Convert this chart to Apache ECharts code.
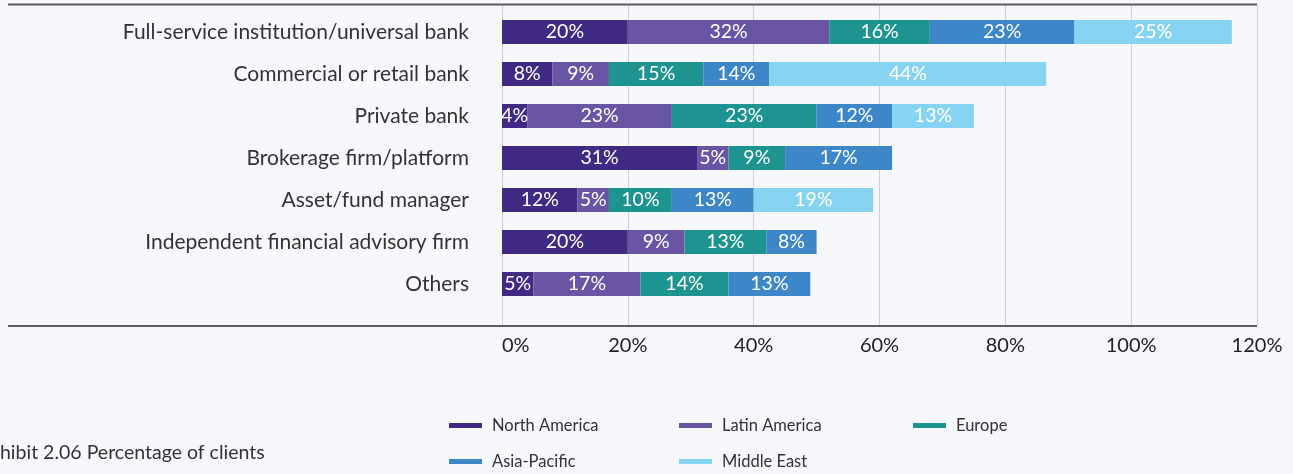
<!DOCTYPE html>
<html><head><meta charset="utf-8">
<script src="https://cdn.jsdelivr.net/npm/echarts@6/dist/echarts.min.js"></script>
<style>html,body{margin:0;padding:0;background:#f7f8fc}#c{width:1293px;height:474px}</style>
</head><body><div id="c"></div><script>
const categories = [
  'Full-service institution/universal bank',
  'Commercial or retail bank',
  'Private bank',
  'Brokerage firm/platform',
  'Asset/fund manager',
  'Independent financial advisory firm',
  'Others'
];
const seriesNames = ['North America', 'Latin America', 'Europe', 'Asia-Pacific', 'Middle East'];
const northAmerica = [20, 8, 4, 31, 12, 20, 5];
const latinAmerica = [32, 9, 23, 5, 5, 9, 17];
const europe = [16, 15, 23, 9, 10, 13, 14];
const asiaPacific = [23, 10.5, 12, 17, 13, 8, 13];
const middleEast = [25, 44, 13, null, 19, null, null];
// printed label texts where they differ from the drawn width
const asiaPacificLabels = ['23%', '14%', '12%', '17%', '13%', '8%', '13%'];
const xTicks = [0, 20, 40, 60, 80, 100, 120];
const colors = ['#402a84', '#6a55a4', '#1e9490', '#3d87c8', '#87d4f2'];

const seriesData = [northAmerica, latinAmerica, europe, asiaPacific, middleEast];
const labelSets = [null, null, null, asiaPacificLabels, null];

const FONT = 'Lato';
const chart = echarts.init(document.getElementById('c'), null, {renderer: 'canvas'});

const legendPos = [
  {left: 449, top: 417}, {left: 679, top: 417}, {left: 913, top: 417},
  {left: 449, top: 453}, {left: 679, top: 453}
];

chart.setOption({
  backgroundColor: '#f7f8fc',
  animation: false,
  title: {
    text: 'Exhibit 2.06 Percentage of clients',
    left: -21, top: 443, padding: 0,
    textStyle: {fontFamily: FONT, fontSize: 19.5, fontWeight: 'normal', color: '#333'}
  },
  legend: seriesNames.map((n, i) => ({
    data: [n], left: legendPos[i].left, top: legendPos[i].top, padding: 0,
    icon: 'rect', itemWidth: 33, itemHeight: 5, itemGap: 0,
    textStyle: {fontFamily: FONT, fontSize: 16.5, color: '#333', padding: [0, 0, 0, 5]}
  })),
  grid: [
    {left: 502, width: 755, top: 11, height: 294},
    {left: 502, width: 755, top: 5, height: 321}
  ],
  xAxis: [
    {gridIndex: 0, type: 'value', min: xTicks[0], max: xTicks[xTicks.length - 1], interval: xTicks[1] - xTicks[0], show: false},
    {gridIndex: 1, type: 'value', min: xTicks[0], max: xTicks[xTicks.length - 1], interval: xTicks[1] - xTicks[0],
      axisLine: {show: false}, axisTick: {show: false},
      splitLine: {show: true, lineStyle: {color: '#cfd0d6', width: 1}},
      axisLabel: {margin: 10, fontFamily: FONT, fontSize: 20, color: '#222', alignMinLabel: 'left',
        formatter: v => v + '%'}}
  ],
  yAxis: [
    {gridIndex: 0, type: 'category', data: categories, inverse: true,
      axisLine: {show: false}, axisTick: {show: false},
      axisLabel: {margin: 33, fontFamily: FONT, fontSize: 21, color: '#333'}},
    {gridIndex: 1, type: 'value', min: 0, max: 1, show: false}
  ],
  graphic: [
    {type: 'line', shape: {x1: 8, y1: 326, x2: 1257, y2: 326},
      style: {stroke: '#5a5a62', lineWidth: 2}, z: 10},
    {type: 'line', shape: {x1: 8, y1: 4.5, x2: 1257, y2: 4.5},
      style: {stroke: '#5a5a62', lineWidth: 2}, z: 10}
  ],
  series: seriesNames.map((n, i) => ({
    name: n, type: 'bar', stack: 'total', barWidth: 24,
    xAxisIndex: 0, yAxisIndex: 0,
    itemStyle: {color: colors[i]},
    data: seriesData[i],
    label: {
      show: true, position: 'inside', color: '#fff',
      fontFamily: FONT, fontSize: 19.5,
      formatter: p => p.value == null ? '' : (labelSets[i] ? labelSets[i][p.dataIndex] : p.value + '%')
    }
  }))
});
</script></body></html>
